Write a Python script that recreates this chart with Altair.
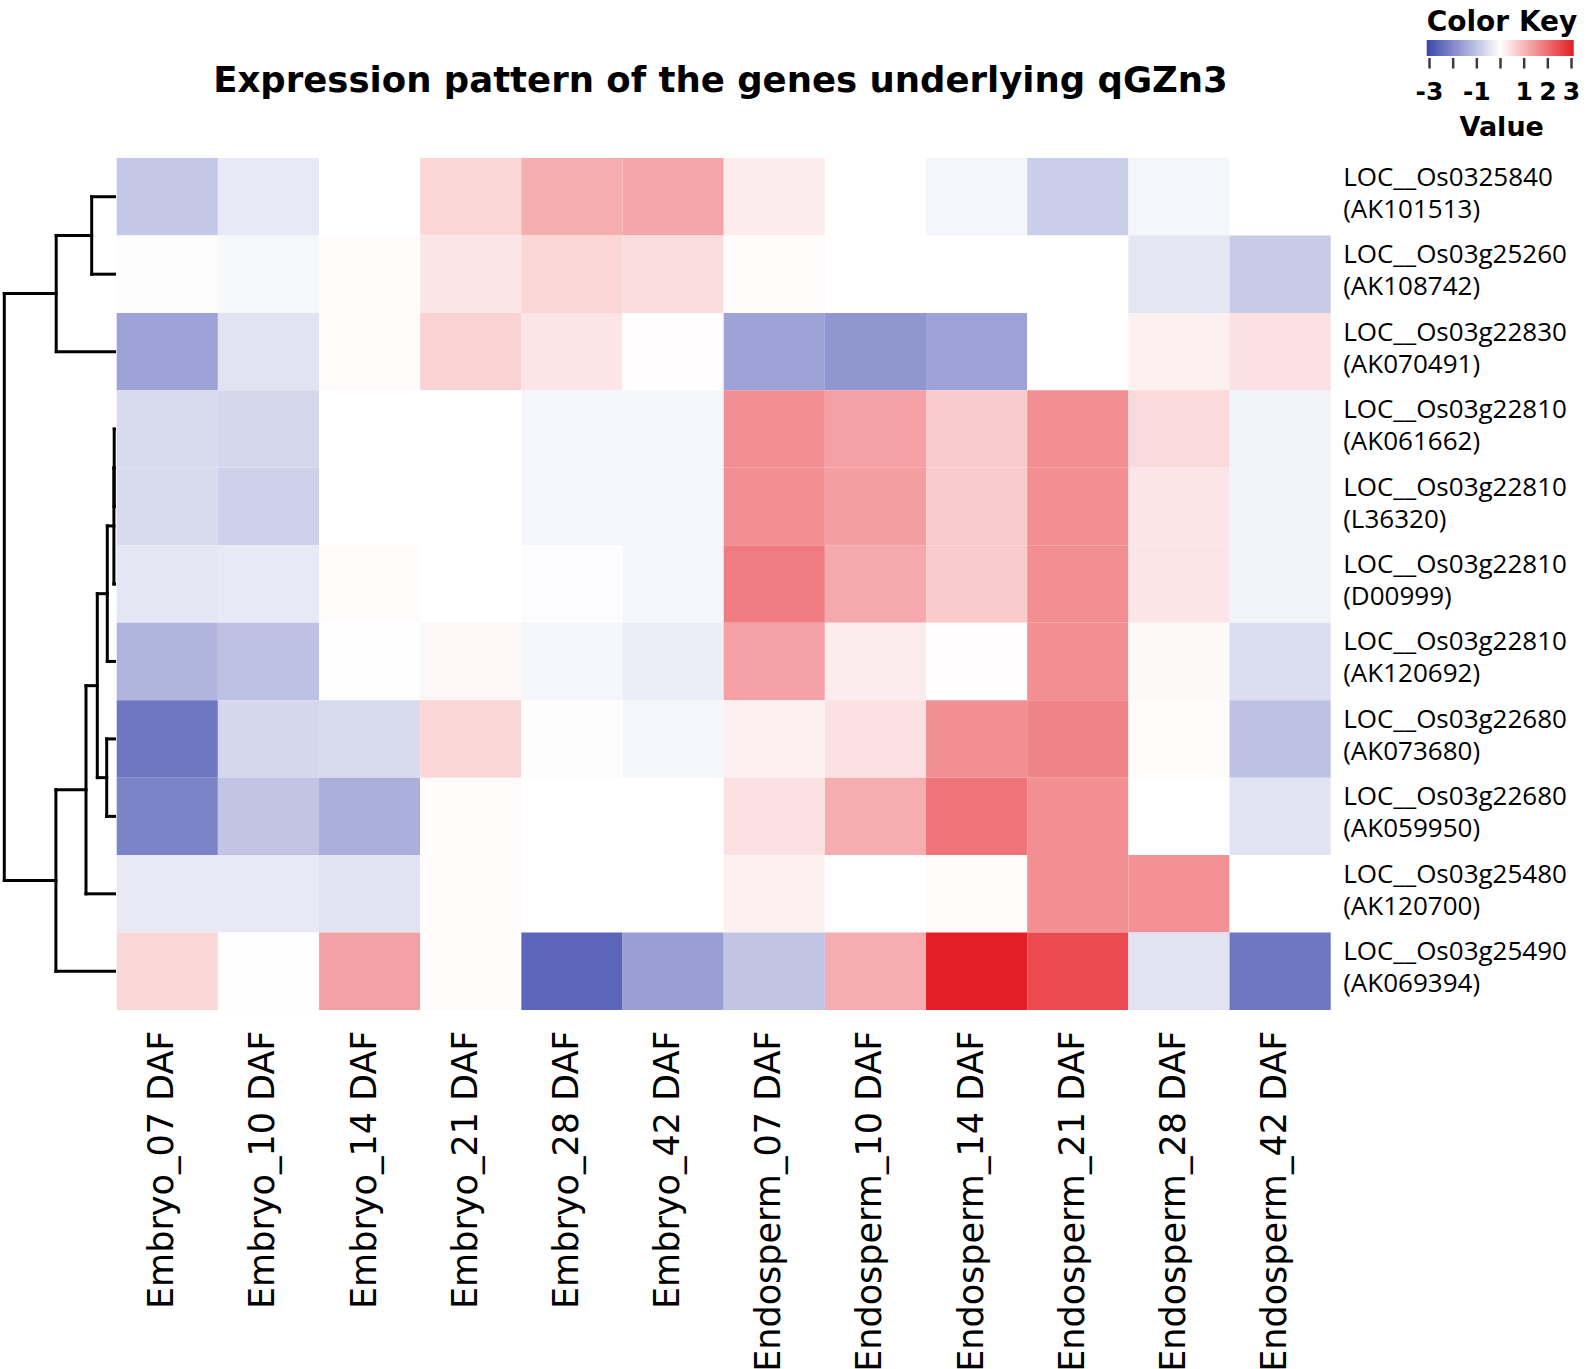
import altair as alt
import pandas as pd

# ---- data -------------------------------------------------------------
samples = [
    "Embryo_07 DAF", "Embryo_10 DAF", "Embryo_14 DAF", "Embryo_21 DAF",
    "Embryo_28 DAF", "Embryo_42 DAF", "Endosperm_07 DAF", "Endosperm_10 DAF",
    "Endosperm_14 DAF", "Endosperm_21 DAF", "Endosperm_28 DAF", "Endosperm_42 DAF",
]

gene_loci = [
    "LOC__Os0325840", "LOC__Os03g25260", "LOC__Os03g22830", "LOC__Os03g22810",
    "LOC__Os03g22810", "LOC__Os03g22810", "LOC__Os03g22810", "LOC__Os03g22680",
    "LOC__Os03g22680", "LOC__Os03g25480", "LOC__Os03g25490",
]
gene_accessions = [
    "(AK101513)", "(AK108742)", "(AK070491)", "(AK061662)", "(L36320)",
    "(D00999)", "(AK120692)", "(AK073680)", "(AK059950)", "(AK120700)",
    "(AK069394)",
]

# row-scaled expression values, one list per gene (columns follow `samples`)
z_values = [
    [-0.90, -0.35, 0.00, 0.55, 1.10, 1.20, 0.25, 0.00, -0.15, -0.80, -0.15, 0.00],
    [-0.03, -0.12, 0.05, 0.35, 0.55, 0.45, 0.05, 0.00, 0.00, 0.00, -0.40, -0.85],
    [-1.50, -0.45, 0.05, 0.60, 0.35, 0.03, -1.50, -1.70, -1.50, 0.00, 0.20, 0.40],
    [-0.60, -0.65, 0.00, 0.00, -0.15, -0.15, 1.50, 1.25, 0.70, 1.50, 0.50, -0.20],
    [-0.60, -0.75, 0.00, 0.00, -0.15, -0.15, 1.50, 1.30, 0.70, 1.50, 0.35, -0.20],
    [-0.40, -0.35, 0.05, 0.00, -0.05, -0.15, 1.75, 1.15, 0.70, 1.50, 0.35, -0.20],
    [-1.20, -1.00, -0.02, 0.10, -0.15, -0.30, 1.25, 0.25, 0.03, 1.50, 0.08, -0.55],
    [-2.20, -0.65, -0.60, 0.55, -0.03, -0.15, 0.20, 0.40, 1.50, 1.65, 0.05, -1.00],
    [-2.00, -0.95, -1.30, 0.05, 0.00, 0.00, 0.40, 1.10, 1.85, 1.50, 0.00, -0.45],
    [-0.35, -0.35, -0.45, 0.05, 0.00, 0.00, 0.20, 0.00, 0.06, 1.50, 1.45, 0.00],
    [0.55, -0.02, 1.25, 0.05, -2.50, -1.55, -0.95, 1.10, 3.00, 2.40, -0.45, -2.20],
]

# row dendrogram: (left child, right child, merge height); leaves are 0..10,
# internal nodes are numbered 11.. in order of creation
merges = [
    (0, 1, 22.8),
    (11, 2, 58.3),
    (3, 4, 0.3),
    (13, 5, 0.6),
    (14, 6, 7.2),
    (7, 8, 7.8),
    (15, 16, 17.2),
    (17, 9, 28.5),
    (18, 10, 58.6),
    (12, 19, 110.2),
]

key_ticks = [-3, -2, -1, 0, 1, 2, 3]
key_labels = [-3, -1, 1, 2, 3]

# ---- layout / style ---------------------------------------------------
W, H = 1214, 852
PAD_L, PAD_T = 116.7, 158
BLUE, WHITE, RED = "#3a46ac", "#ffffff", "#e41e26"
KEY_RANGE = [1312.8, 1454.8]   # pixel span of the colour key's -3..3 ticks

gene_keys = [f"{a}|{b}" for a, b in zip(gene_loci, gene_accessions)]

cells = pd.DataFrame(
    [
        {"gene": g, "sample": s, "value": v}
        for g, row in zip(gene_keys, z_values)
        for s, v in zip(samples, row)
    ]
)

# dendrogram segments in (height, row-position) space
n_leaves = len(gene_keys)
pos = {i: i + 0.5 for i in range(n_leaves)}
hgt = {i: 0.0 for i in range(n_leaves)}
segs = []
for k, (a, b, h) in enumerate(merges):
    node = n_leaves + k
    segs.append({"h0": h, "h1": h, "p0": pos[a], "p1": pos[b]})
    segs.append({"h0": hgt[a], "h1": h, "p0": pos[a], "p1": pos[a]})
    segs.append({"h0": hgt[b], "h1": h, "p0": pos[b], "p1": pos[b]})
    pos[node] = (pos[a] + pos[b]) / 2
    hgt[node] = h
segments = pd.DataFrame(segs)
root_h = merges[-1][2]

color_scale = alt.Scale(domain=[-3, 0, 3], range=[BLUE, WHITE, RED], interpolate="rgb")

heatmap = alt.Chart(cells).mark_rect(strokeWidth=0).encode(
    x=alt.X(
        "sample:N",
        sort=samples,
        title=None,
        scale=alt.Scale(paddingInner=0, paddingOuter=0),
        axis=alt.Axis(
            orient="bottom", labelAngle=-90, labelFont="DejaVu Sans",
            labelFontSize=35, labelColor="black", labelPadding=20,
            labelOffset=-5, ticks=False, tickSize=0, domain=False,
            grid=False, labelLimit=600,
        ),
    ),
    y=alt.Y(
        "gene:N",
        sort=gene_keys,
        title=None,
        scale=alt.Scale(paddingInner=0, paddingOuter=0),
        axis=alt.Axis(
            orient="right", labelExpr="split(datum.label, '|')",
            labelFont="Open Sans", labelFontSize=26, labelColor="black",
            labelLineHeight=32, labelPadding=12, labelOffset=-19,
            ticks=False, tickSize=0, domain=False, grid=False, labelLimit=400,
        ),
    ),
    color=alt.Color(
        "value:Q",
        scale=color_scale,
        legend=alt.Legend(
            orient="none", direction="horizontal", legendX=1310,
            legendY=-149, title="Color Key", titleFont="DejaVu Sans",
            titleFontSize=28, titleFontWeight="bold", titleColor="black",
            titleAnchor="start", titlePadding=3, gradientLength=147,
            gradientThickness=16, gradientStrokeWidth=0,
            values=key_labels, labelExpr="''", labelFontSize=1,
            labelOverlap=False, padding=0,
        ),
    ),
)

dendro = alt.Chart(segments).mark_rule(
    color="black", strokeWidth=3, strokeCap="square"
).encode(
    x=alt.X("h0:Q", axis=None,
            scale=alt.Scale(domain=[0, root_h], range=[-2.2, -112.4], nice=False, zero=False)),
    x2="h1:Q",
    y=alt.Y("p0:Q", axis=None,
            scale=alt.Scale(domain=[0, n_leaves], range=[0, H], nice=False, zero=False)),
    y2="p1:Q",
)

key_scale = alt.Scale(domain=[-3, 3], range=KEY_RANGE, nice=False, zero=False)

key_tick_marks = alt.Chart(pd.DataFrame({"t": key_ticks})).mark_rule(
    color="#3c3c3c", strokeWidth=2.5
).encode(
    x=alt.X("t:Q", axis=None, scale=key_scale),
    y=alt.value(-100),
    y2=alt.value(-89.5),
)

key_tick_labels = alt.Chart(pd.DataFrame({"t": key_labels})).mark_text(
    font="DejaVu Sans", fontSize=25, fontWeight="bold", color="black",
    align="center", baseline="alphabetic",
).encode(
    x=alt.X("t:Q", axis=None, scale=key_scale),
    y=alt.value(-58),
    text=alt.Text("label:N"),
).transform_calculate(label="toString(datum.t)")

title_text = alt.Chart(
    pd.DataFrame({"t": ["Expression pattern of the genes underlying qGZn3"]})
).mark_text(
    font="DejaVu Sans", fontSize=35.5, fontWeight="bold", color="black",
    align="center", baseline="alphabetic",
).encode(text="t:N", x=alt.value(603.8), y=alt.value(-66.3))

value_text = alt.Chart(pd.DataFrame({"t": ["Value"]})).mark_text(
    font="DejaVu Sans", fontSize=27, fontWeight="bold", color="black",
    align="center", baseline="alphabetic",
).encode(text="t:N", x=alt.value(1385), y=alt.value(-22))

chart = (
    alt.layer(heatmap, dendro, key_tick_marks, key_tick_labels, title_text, value_text)
    .resolve_scale(x="independent", y="independent")
    .properties(
        width=W,
        height=H,
        padding={"left": PAD_L, "top": PAD_T, "right": 1586 - PAD_L - W,
                 "bottom": 1369 - PAD_T - H},
        autosize=alt.AutoSizeParams(type="none"),
        background="white",
    )
    .configure_view(stroke=None)
)

chart.save("out.html", embed_options={"renderer": "svg", "actions": False})
